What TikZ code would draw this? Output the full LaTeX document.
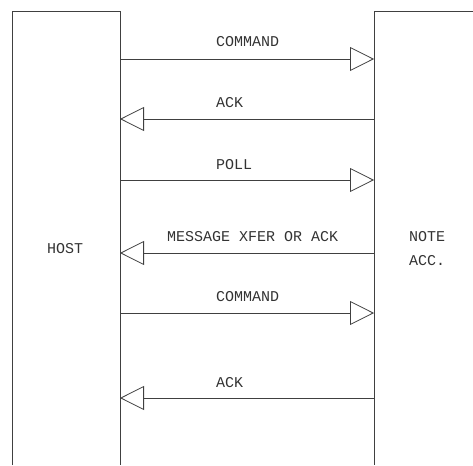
\documentclass[tikz,border=0pt]{standalone}
\usepackage{fontspec}
\newfontfamily\capfont{Liberation Mono}
\usetikzlibrary{arrows.meta}

\begin{document}
\begin{tikzpicture}[
        x=1pt, y=-1pt,
        every node/.style={font={\capfont\fontsize{15pt}{24pt}\selectfont}, text=black!80, inner sep=0pt},
        lbl/.style={anchor=base west},
        lane/.style={line width=0.8pt, draw=black!75},
        msg/.style={lane, -{Triangle[open, length=24pt, width=24pt, line width=0.8pt]}}
    ]
    \useasboundingbox (0,0) rectangle (473,465);

    % Lanes
    \draw[lane] (12,465) -- (12,11) -- (120,11) -- (120,465);
    \draw[lane] (473,11) -- (374,11) -- (374,465);
    \node[lbl] (host) at (47,253) {HOST};
    \node[anchor=north west, align=left] (note) at (409,231) {NOTE\\ACC.};

    % Lane points for the messages
    \coordinate (h1) at (120,59);  \coordinate (n1) at (374,59);
    \coordinate (h2) at (120,119); \coordinate (n2) at (374,119);
    \coordinate (h3) at (120,180); \coordinate (n3) at (374,180);
    \coordinate (h4) at (120,253); \coordinate (n4) at (374,253);
    \coordinate (h5) at (120,313); \coordinate (n5) at (374,313);
    \coordinate (h6) at (120,398); \coordinate (n6) at (374,398);

    % Messages
    \draw[msg] (h1) -- (n1);
    \node[lbl] (cmd1) at (216,47) {COMMAND};
    \draw[msg] (n2) -- (h2);
    \node[lbl] (ack1) at (216,108) {ACK};
    \draw[msg] (h3) -- (n3);
    \node[lbl] (poll) at (216,169) {POLL};
    \draw[msg] (n4) -- (h4);
    \node[lbl] (xfer) at (167,241) {MESSAGE XFER OR ACK};
    \draw[msg] (h5) -- (n5);
    \node[lbl] (cmd2) at (216,301) {COMMAND};
    \draw[msg] (n6) -- (h6);
    \node[lbl] (ack2) at (216,387) {ACK};

\end{tikzpicture}
\end{document}
